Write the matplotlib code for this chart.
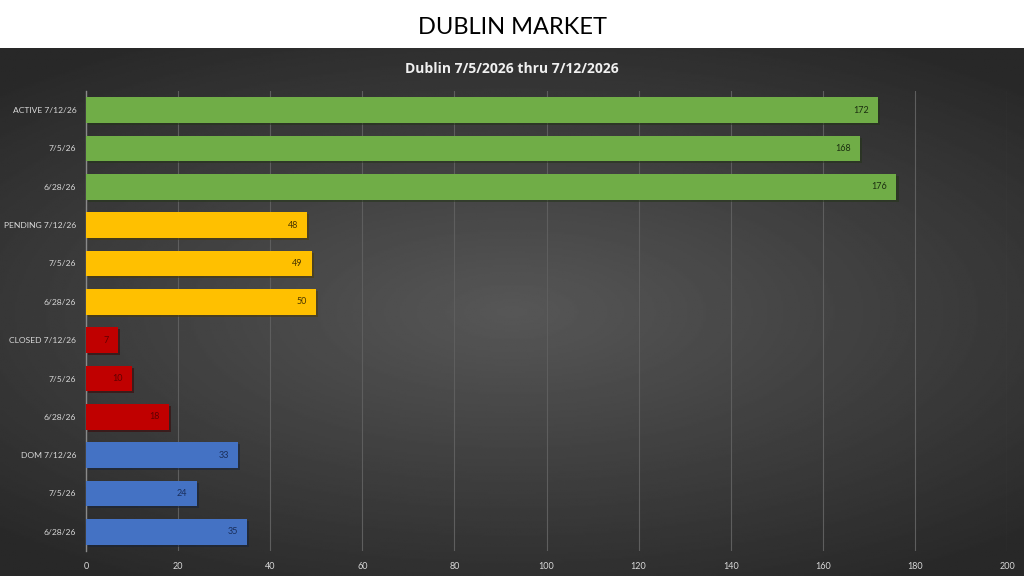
import numpy as np
import matplotlib
matplotlib.use("Agg")
import matplotlib.pyplot as plt
import matplotlib.patheffects as pe

plt.rcParams['font.family'] = ['Lato', 'DejaVu Sans']

labels = ["ACTIVE 7/12/26", "7/5/26", "6/28/26",
          "PENDING 7/12/26", "7/5/26", "6/28/26",
          "CLOSED 7/12/26", "7/5/26", "6/28/26",
          "DOM 7/12/26", "7/5/26", "6/28/26"]
values = [172, 168, 176, 48, 49, 50, 7, 10, 18, 33, 24, 35]
bar_colors = ["#70AD47"] * 3 + ["#FFC000"] * 3 + ["#C00000"] * 3 + ["#4472C4"] * 3
text_colors = ["#1b2e10"] * 3 + ["#4a3600"] * 3 + ["#600000"] * 3 + ["#1a2f5c"] * 3
xticks = list(range(0, 201, 20))

fig = plt.figure(figsize=(10.24, 5.76), dpi=100)
fig.patch.set_facecolor("white")

# dark radial background panel below the white title band
bg = fig.add_axes([0, 0, 1, 528 / 576])
yy, xx = np.mgrid[-1:1:300j, -1:1:500j]
r = np.sqrt((xx * 0.9) ** 2 + (yy * 1.1) ** 2)
bg.imshow(0.34 - 0.18 * np.clip(r, 0, 1.3) / 1.3, cmap="gray", vmin=0, vmax=1,
          aspect="auto", extent=[0, 1, 0, 1])
bg.axis("off")

fig.text(0.5, 1 - 27 / 576, "DUBLIN MARKET", ha="center", va="center",
         fontsize=17, color="black")
fig.text(0.5, 1 - 69 / 576, "Dublin 7/5/2026 thru 7/12/2026", ha="center",
         va="center", fontsize=10, color="#f0f0f0", fontweight="bold",
         family=["Open Sans", "DejaVu Sans"])

ax = fig.add_axes([86 / 1024, 1 - 551 / 576, (1007 - 86) / 1024, (551 - 91) / 576])
ax.set_facecolor("none")
y = np.arange(len(values))
bars = ax.barh(y, values, height=0.67, color=bar_colors, zorder=3)
for b in bars:
    b.set_path_effects([pe.SimplePatchShadow(offset=(1.5, -1.5), alpha=0.5), pe.Normal()])
for yi, v, tc in zip(y, values, text_colors):
    ax.text(v - 2, yi, str(v), ha="right", va="center", fontsize=6.5, color=tc, zorder=4)

ax.set_ylim(len(values) - 0.5, -0.5)
ax.set_xlim(0, 200)
ax.set_xticks(xticks)
ax.set_yticks(y)
ax.set_yticklabels(labels)
ax.tick_params(axis="both", colors="#d9d9d9", labelsize=6.5, length=0)
ax.tick_params(axis="y", labelsize=6.1, pad=7)
ax.tick_params(axis="x", pad=8)
ax.grid(axis="x", color="#5e5e5e", linewidth=0.8, zorder=0)
for s in ["top", "right", "bottom"]:
    ax.spines[s].set_visible(False)
ax.spines["left"].set_color("#8a8a8a")
ax.spines["left"].set_linewidth(1)

fig.savefig("out.png", dpi=100)
